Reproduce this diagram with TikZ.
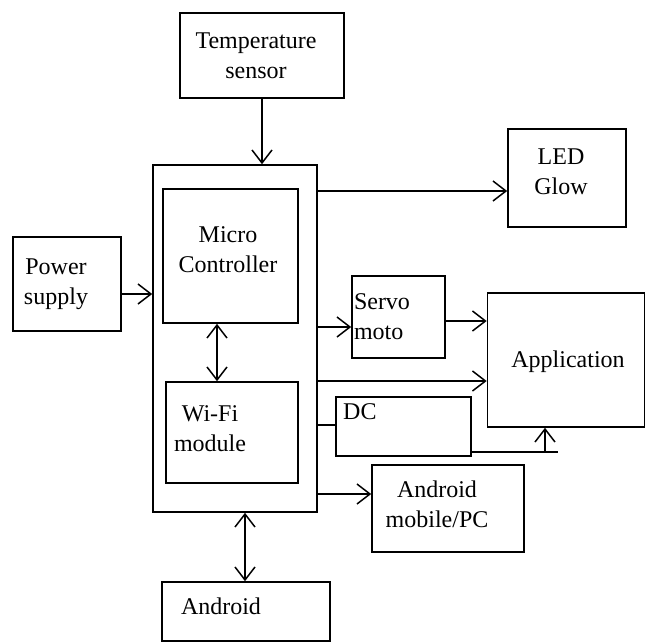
\documentclass[tikz,border=0pt]{standalone}
\usepackage{fontspec}
\setmainfont{Liberation Serif}
\usetikzlibrary{arrows.meta}
\tikzset{
  box/.style={draw, line width=1.6pt, inner sep=0pt, minimum width=#1},
  lbl/.style={font=\fontsize{24}{30}\selectfont, align=center, inner sep=0pt},
  tip/.style={},
  arr/.style={line width=1.5pt, -{Straight Barb[length=13pt,width=20pt,line width=1.5pt]}},
  darr/.style={line width=1.5pt, {Straight Barb[length=13pt,width=20pt,line width=1.5pt]}-{Straight Barb[length=13pt,width=20pt,line width=1.5pt]}},
  ln/.style={line width=1.5pt}
}
\begin{document}
\begin{tikzpicture}[x=1pt,y=-1pt]
\useasboundingbox (0,0) rectangle (646,643);
% boxes
\node[box=164, minimum height=85, line width=2.2pt] (temp) at (262,55.5) {};
\node[box=164, minimum height=347] (main) at (235,338.5) {};
\node[box=135, minimum height=134] (mc) at (230.5,256) {};
\node[box=132, minimum height=101] (wifi) at (232,432.5) {};
\node[box=108, minimum height=94] (power) at (67,284) {};
\node[box=118, minimum height=98] (led) at (567,178) {};
\node[box=93, minimum height=82] (servo) at (398.5,317) {};
\node[box=157, minimum height=134] (app) at (566,360) {};
\node[box=135, minimum height=59] (dc) at (403.5,426.5) {};
\node[box=152, minimum height=87] (amob) at (448,508.5) {};
\node[box=168, minimum height=59] (android) at (246,611.5) {};
% texts
\node[lbl] (ttemp) at (256,56) {Temperature\\sensor};
\node[lbl] (tmc) at (228,250) {Micro\\Controller};
\node[lbl] (twifi) at (210,429) {Wi-Fi\\module};
\node[lbl] (tpower) at (56,284) {Power\\supply};
\node[lbl] (tled) at (561,172) {LED\\Glow};
\node[lbl, align=left] (tservo) at (382,317) {Servo\\ moto};
\node[lbl] (tapp) at (568,362) {Application};
\node[lbl, anchor=west] (tdc) at (343,412) {DC};
\node[lbl] (tamob) at (437,504) {Android\\mobile/PC};
\node[lbl] (tandroid) at (221,606) {Android};
% connectors
\draw[arr] (temp.south) -- (main.north -| temp.south);
\draw[arr] (power.east |- 0,294) -- (main.west |- 0,294);
\draw[arr] (main.east |- 0,191) -- (led.west |- 0,191);
\draw[arr] (main.east |- 0,327) -- (servo.west |- 0,327);
\draw[arr] (servo.east |- 0,321) -- (app.west |- 0,321);
\draw[arr] (main.east |- 0,381) -- (app.west |- 0,381);
\draw[ln] (main.east |- 0,425) -- (dc.west |- 0,425);
\coordinate (dcend) at (558,452);
\draw[ln] (dc.east |- 0,452) -- (dcend);
\draw[arr] (545,452) -- (app.south -| 545,0);
\draw[arr] (main.east |- 0,494) -- (amob.west |- 0,494);
\draw[darr] (mc.south -| 217,0) -- (wifi.north -| 217,0);
\draw[darr] (main.south -| 245,0) -- (android.north -| 245,0);
\end{tikzpicture}
\end{document}
